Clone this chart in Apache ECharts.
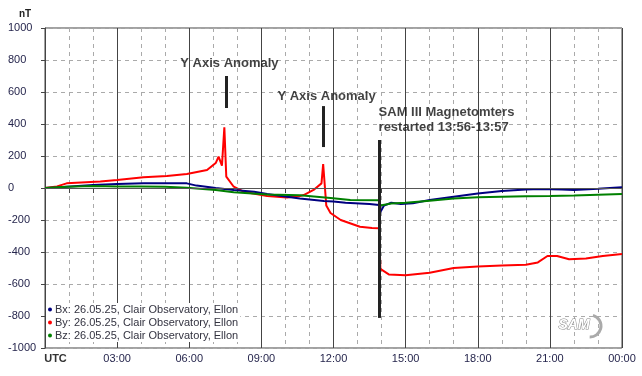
<!DOCTYPE html>
<html>
<head>
<meta charset="utf-8">
<script src="https://cdn.jsdelivr.net/npm/echarts@6/dist/echarts.min.js"></script>
<style>
  html, body { margin: 0; padding: 0; background: #fff; }
  #chart { width: 642px; height: 376px; }
</style>
</head>
<body>
<div id="chart"></div>
<script>
// hours since 00:00 UTC and field values in nT
const bxHours = [0, 0.5, 0.9, 2, 3, 4.1, 5.9, 6.3, 7.1, 7.85, 8.7, 9.24, 10.07, 10.6, 11.6, 12, 12.5, 13.5, 13.9, 13.95, 14.1, 14.4, 14.8, 15.3, 16, 17, 18, 19, 20, 20.6, 21.5, 22, 23, 24];
const bxValues = [0, 3, 8, 18, 25, 29, 29, 15, 0, -12, -23, -37, -54, -66, -81, -85, -92, -100, -106, -150, -110, -92, -100, -95, -75, -54, -35, -19, -10, -6, -10, -12, -5, 4];

const byHours = [0, 0.5, 0.9, 2.3, 3, 4.1, 5.07, 5.9, 6.74, 7.1, 7.22, 7.36, 7.46, 7.54, 7.85, 8.26, 9.24, 10.07, 10.6, 10.76, 11.17, 11.5, 11.57, 11.7, 11.875, 12.3, 13.1, 13.6, 13.9, 13.95, 14.3, 15, 16, 17, 18, 19, 20, 20.5, 20.9, 21.3, 21.8, 22.5, 23.2, 24];
const byValues = [0, 10, 29, 40, 50, 67, 75, 87, 112, 156, 196, 140, 379, 71, 8, -23, -50, -60, -50, -44, -12, 29, 150, -110, -156, -200, -242, -250, -252, -506, -540, -545, -530, -500, -490, -485, -480, -465, -425, -425, -445, -440, -425, -413];

const bzHours = [0, 0.9, 2, 3, 4, 5, 5.9, 7.1, 7.85, 9.24, 10.6, 11.875, 12.7, 13.9, 13.95, 14.4, 15, 16, 17, 18, 19, 20, 21, 22, 23, 24];
const bzValues = [0, 8, 12, 10, 10, 8, 2, -12, -27, -40, -46, -62, -75, -77, -110, -97, -92, -79, -65, -58, -54, -52, -50, -47, -42, -37];

const seriesNames = [
  'Bx: 26.05.25, Clair Observatory, Ellon',
  'By: 26.05.25, Clair Observatory, Ellon',
  'Bz: 26.05.25, Clair Observatory, Ellon'
];

// annotation texts and marker bars (hour, top nT, bottom nT)
const notes = [
  { hour: 7.67, nT: 781, text: 'Y Axis Anomaly', align: 'center' },
  { hour: 11.71, nT: 571, text: 'Y Axis Anomaly', align: 'center' },
  { hour: 13.875, nT: 425, text: 'SAM III Magnetomters\nrestarted 13:56-13:57', align: 'left' }
];
const bars = [
  [7.54, 700, 500],
  [11.58, 512, 256],
  [13.9, 300, -812]
];

const zip = (xs, ys) => xs.map((x, i) => [x, ys[i]]);
const font = '"Liberation Sans", Arial, sans-serif';

const chart = echarts.init(document.getElementById('chart'));

chart.setOption({
  animation: false,
  textStyle: { fontFamily: font },
  title: {
    text: 'nT', left: 14, top: 4,
    textStyle: { fontSize: 10, fontWeight: 'bold', color: '#222', fontFamily: font }
  },
  grid: {
    left: 45, right: 20, top: 28, bottom: 28,
    show: true, borderColor: '#444', borderWidth: 1, backgroundColor: 'transparent'
  },
  legend: {
    data: seriesNames,
    orient: 'vertical',
    left: 46, top: 303,
    padding: [1, 2, 1, 2],
    backgroundColor: '#fff',
    itemGap: 2,
    itemWidth: 4, itemHeight: 4,
    icon: 'circle',
    textStyle: { fontSize: 11, color: '#333340', fontFamily: font, padding: [0, 0, 0, -2] }
  },
  xAxis: {
    type: 'value',
    min: 0, max: 24, interval: 3,
    axisLine: { lineStyle: { color: '#444' } },
    axisTick: { length: 5, lineStyle: { color: '#444' } },
    minorTick: { show: true, splitNumber: 3, length: 5, lineStyle: { color: '#444' } },
    splitLine: { show: true, lineStyle: { color: '#444', width: 1 } },
    minorSplitLine: { show: true, lineStyle: { color: '#aaa', type: [4, 4] } },
    axisLabel: {
      margin: 5,
      fontSize: 11,
      color: '#26264d',
      formatter: v => v === 0 ? '{utc|UTC}' : String(v % 24).padStart(2, '0') + ':00',
      rich: { utc: { fontWeight: 'bold', color: '#333', fontSize: 11, padding: [0, 0, 0, 21] } }
    }
  },
  yAxis: {
    type: 'value',
    min: -1000, max: 1000, interval: 200,
    axisLine: { show: true, lineStyle: { color: '#444' } },
    axisTick: { show: true, length: 4, lineStyle: { color: '#444' } },
    splitLine: { lineStyle: { color: '#aaa', type: [4, 4] } },
    axisLabel: { align: 'left', margin: 37, fontSize: 11, color: '#26264d', formatter: v => String(v) }
  },
  series: [
    {
      name: seriesNames[0], type: 'line', data: zip(bxHours, bxValues),
      showSymbol: false, color: '#000080', lineStyle: { width: 2 }, z: 3,
      markLine: {
        silent: true, symbol: 'none', label: { show: false },
        lineStyle: { color: '#555', width: 1, type: 'solid' },
        data: [{ yAxis: 0 }]
      }
    },
    {
      name: seriesNames[1], type: 'line', data: zip(byHours, byValues),
      showSymbol: false, color: '#ff0000', lineStyle: { width: 2 }, z: 2
    },
    {
      name: seriesNames[2], type: 'line', data: zip(bzHours, bzValues),
      showSymbol: false, color: '#008000', lineStyle: { width: 2 }, z: 4
    },
    {
      name: 'notes', type: 'scatter', symbolSize: 0, silent: true, z: 6,
      data: notes.map(n => ({
        value: [n.hour, n.nT],
        label: {
          show: true, position: 'inside', formatter: n.text, align: n.align,
          fontSize: 13, fontWeight: 'bold', color: '#111', lineHeight: 15, fontFamily: font
        }
      })),
      markLine: {
        silent: true, symbol: 'none', label: { show: false },
        lineStyle: { color: '#222', width: 3, type: 'solid', opacity: 1 },
        data: bars.map(b => [{ coord: [b[0], b[1]] }, { coord: [b[0], b[2]] }])
      }
    }
  ],
  graphic: [
    {
      type: 'text', left: 558, top: 318, z: 10,
      style: { text: 'SAM', fontSize: 14, fontStyle: 'italic', fontWeight: 'bold', fill: '#fff', stroke: '#888', lineWidth: 1, fontFamily: font }
    },
    {
      type: 'arc', z: 9,
      shape: { cx: 590, cy: 326, r: 11, startAngle: -1.3, endAngle: 1.6 },
      style: { stroke: '#aaa', lineWidth: 3, fill: 'none' }
    }
  ]
});
</script>
</body>
</html>
